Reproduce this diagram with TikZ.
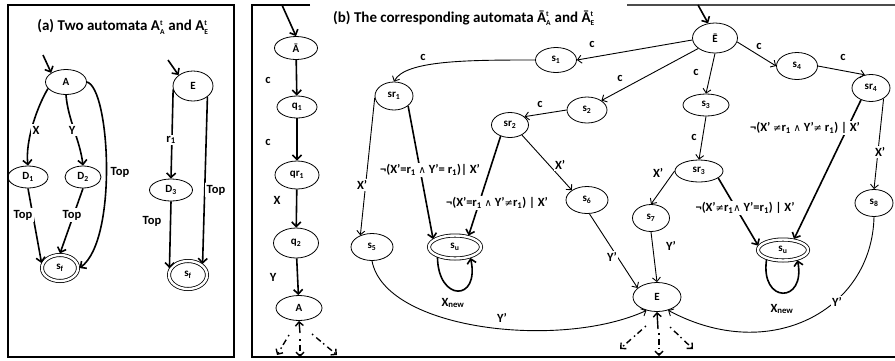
\documentclass[tikz,border=0pt]{standalone}
\usepackage{fontspec}
\setmainfont{Carlito}
\newfontfamily\symf{DejaVu Sans}
\usetikzlibrary{shapes.geometric,arrows.meta}
\newcommand\ts[2]{\ensuremath{^{\mbox{\fontsize{7.5}{7.5}\selectfont #1}}_{\mbox{\fontsize{7.5}{7.5}\selectfont #2}}}}
\newcommand\sbs[1]{\textsubscript{#1}}
\newcommand\AND{{\symf\mdseries\fontsize{10}{10}\selectfont ∧}}
\newcommand\NEQ{{\symf\mdseries\fontsize{10}{10}\selectfont ≠}}
\begin{document}
\begin{tikzpicture}[x=1pt,y=-1pt,
 st/.style 2 args={ellipse, draw, line width=0.8pt, minimum width=#1pt, minimum height=#2pt, inner sep=0pt, font=\fontsize{11}{12}\selectfont\bfseries},
 acc/.style 2 args={st={#1}{#2}, double, double distance=2.4pt, outer sep=1.6pt},
 lab/.style={font=\fontsize{12.5}{14}\selectfont\bfseries, inner sep=1.5pt},
 wlab/.style={lab, fill=white},
 tk/.style={line width=1.6pt, -{Straight Barb[length=4.5pt,width=9pt]}},
 tn/.style={line width=0.9pt, -{Straight Barb[length=4pt,width=8pt]}},
 da/.style={line width=1.4pt, dash pattern=on 1.5pt off 4pt on 6pt off 3pt, -{Straight Barb[length=4pt,width=8pt]}},
 fr/.style={line width=1.1pt}]
\useasboundingbox (0,0) rectangle (895,360);

% ---------- panel (a)
\draw[fr] (8,5) rectangle (234,357);
\node[lab, font=\fontsize{15}{17}\selectfont\bfseries] (ta) at (123,27) {(a) Two automata A\ts{t}{A} and A\ts{t}{E}};

\node[st={41}{25}] (Aa) at (66,82) {A};
\node[st={40}{30}] (Ea) at (193,86) {E};
\node[st={40}{22}] (D1) at (28,177) {D\sbs{1}};
\node[st={36}{22}] (D2) at (83,177) {D\sbs{2}};
\node[st={43}{22}] (D3) at (171,190) {D\sbs{3}};
\node[acc={36}{26}] (sfa) at (60,268) {s\sbs{f}};
\node[acc={38}{28}] (sfb) at (188,275) {s\sbs{f}};

\coordinate (iAa) at (43,55);
\draw[tk] (iAa) -- (Aa.north west);
\draw[tk] (Aa.200) .. controls (38,105) and (25,140) .. (D1.north);
\draw[tk] (Aa.south) .. controls (68,120) and (80,140) .. (D2.north);
\draw[tk] (Aa.east) .. controls (110,88) and (118,240) .. (sfa.east);
\draw[tk] (D1.south) -- (sfa.165);
\draw[tk] (D2.south) -- (sfa.north);
\coordinate (iEa) at (168,60);
\draw[tk] (iEa) -- (Ea.north west);
\draw[tk] (Ea.190) -- (D3.north);
\draw[tk] (Ea.south east) -- (sfb.north east);
\draw[tk] (D3.south) -- (sfb.160);

\node[wlab] (lX) at (36,130) {X};
\node[wlab] (lY) at (72,130) {Y};
\node[wlab] (lT1) at (120,172) {Top};
\node[wlab] (lT2) at (23,215) {Top};
\node[wlab] (lT3) at (72,215) {Top};
\node[wlab] (lr1) at (171,140) {r\sbs{1}};
\node[wlab] (lT4) at (216,190) {Top};
\node[wlab] (lT5) at (152,221) {Top};

% ---------- panel (b)
\draw[fr] (310,5) -- (252,5) -- (252,357) -- (895,357);
\draw[line width=1.6pt, black!70] (627,5) -- (895,5);
\node[lab, font=\fontsize{15}{17}\selectfont\bfseries] (tb) at (464,18) {(b) The corresponding automata \=A\ts{t}{A} and \=A\ts{t}{E}};

\node[st={43}{23}] (Ab) at (296,48) {\=A};
\node[st={40}{22}] (q1) at (297,107) {q\sbs{1}};
\node[st={44}{28}] (qr1) at (297,175) {qr\sbs{1}};
\node[st={45}{30}] (q2) at (296,243) {q\sbs{2}};
\node[st={46}{25}] (Ab2) at (299,308) {A};
\node[st={45}{30}] (Eb) at (715,38) {\=E};
\node[st={41}{25}] (s1) at (556,60) {s\sbs{1}};
\node[st={38}{28}] (sr1) at (394,96) {sr\sbs{1}};
\node[st={40}{26}] (s2) at (587,110) {s\sbs{2}};
\node[st={37}{25}] (sr2) at (510,125) {sr\sbs{2}};
\node[st={46}{22}] (s3) at (706,105) {s\sbs{3}};
\node[st={48}{22}] (sr3) at (699,171) {sr\sbs{3}};
\node[st={41}{27}] (s4) at (797,66) {s\sbs{4}};
\node[st={38}{27}] (sr4) at (871,88) {sr\sbs{4}};
\node[st={42}{27}] (s5) at (372,247) {s\sbs{5}};
\node[st={42}{27}] (s6) at (587,200) {s\sbs{6}};
\node[st={37}{27}] (s7) at (651,218) {s\sbs{7}};
\node[st={38}{27}] (s8) at (874,203) {s\sbs{8}};
\node[acc={52}{23}] (su1) at (455,247) {s\sbs{u}};
\node[acc={50}{21}] (su2) at (783,250) {s\sbs{u}};
\node[st={48}{29}] (Ebb) at (657,297) {E};

% left column
\coordinate (iAb) at (282,5);
\draw[tk] (iAb) -- (Ab.north);
\draw[tk] (Ab) -- (q1);
\draw[tk] (q1) -- (qr1);
\draw[tk] (qr1) -- (q2);
\draw[tk] (q2) -- (Ab2);
\coordinate (au) at (300,333);
\draw[line width=1.4pt, -{Straight Barb[length=4pt,width=8pt]}] (au) -- (Ab2.south);
\coordinate (a1s) at (289,335); \coordinate (a1e) at (277,355);
\coordinate (a2s) at (300,339); \coordinate (a2e) at (300,357);
\coordinate (a3s) at (312,334); \coordinate (a3e) at (337,355);
\draw[da] (a1s) -- (a1e);
\draw[da] (a2s) -- (a2e);
\draw[da] (a3s) -- (a3e);

% right part
\coordinate (iEb) at (698,5);
\draw[tk] (iEb) -- (Eb.115);
\draw[tn] (Eb.185) -- (s1.east);
\draw[tn] (s1.west) .. controls (470,60) and (405,60) .. (sr1.north);
\draw[tn] (Eb.212) -- (s2.north east);
\draw[tn] (s2.west) -- (sr2.30);
\draw[tn] (Eb.south) -- (s3.north);
\draw[tn] (s3.south) -- (sr3.north);
\draw[tn] (Eb.-10) -- (s4.west);
\draw[tn] (s4.east) -- (sr4.115);
\draw[tn] (sr1.185) -- (s5.135);
\draw[tk] (sr1.-35) -- (su1.160);
\draw[tk] (sr2.-130) -- (su1.40);
\draw[tn] (sr2.-40) -- (s6.north west);
\draw[tn] (s6.-80) -- (Ebb.155);
\draw[tn] (sr3.west) -- (s7.north);
\draw[tn] (s7.south) -- (Ebb.north);
\draw[tk] (sr3.-20) -- (su2.170);
\draw[tk] (sr4.-130) -- (su2.45);
\draw[tn] (sr4.-40) -- (s8.north);
\draw[tn] (s8.south) .. controls (872,310) and (770,365) .. (Ebb.-50);
\draw[tn] (s5.south) .. controls (385,330) and (560,350) .. (Ebb.-128);
\draw[tk] (su1.-150) .. controls (438,302) and (480,302) .. (su1.-35);
\draw[tk] (su2.-150) .. controls (760,304) and (806,304) .. (su2.-35);

\coordinate (eu) at (658,329);
\draw[line width=1.4pt, -{Straight Barb[length=4pt,width=8pt]}] (eu) -- (Ebb.south);
\coordinate (e1s) at (646,326); \coordinate (e1e) at (620,349);
\coordinate (e2s) at (659,333); \coordinate (e2e) at (659,356);
\coordinate (e3s) at (670,327); \coordinate (e3e) at (693,349);
\draw[da] (e1s) -- (e1e);
\draw[da] (e2s) -- (e2e);
\draw[da] (e3s) -- (e3e);

% labels (b)
\node[lab] (lc1) at (268,80) {c};
\node[lab] (lc2) at (268,142) {c};
\node[lab] (lX2) at (277,200) {X};
\node[lab] (lY2) at (273,277) {Y};
\node[lab] (c3) at (592,44) {c};
\node[lab] (c4) at (423,57) {c};
\node[lab] (c5) at (620,78) {c};
\node[lab] (c6) at (540,104) {c};
\node[lab] (c7) at (696,72) {c};
\node[lab] (c8) at (694,137) {c};
\node[wlab] (c9) at (759,46) {c};
\node[lab] (c10) at (843,57) {c};
\node[wlab] (xp1) at (362,185) {X’};
\node[wlab] (L1) at (430,170) {¬(X’=r\sbs{1} \AND{} Y’= r\sbs{1})| X’};
\node[wlab] (L2) at (497,203) {¬(X’=r\sbs{1} \AND{} Y’\NEQ{}r\sbs{1}) | X’};
\node[wlab] (xp2) at (560,165) {X’};
\node[wlab] (yp1) at (612,257) {Y’};
\node[lab] (xp3) at (658,173) {X’};
\node[lab] (yp2) at (671,246) {Y’};
\node[wlab] (L3) at (745,208) {¬(X’\NEQ{}r\sbs{1}\AND{} Y’=r\sbs{1}) | X’};
\node[wlab] (L4) at (805,128) {¬(X’ \NEQ{}r\sbs{1} \AND{} Y’\NEQ{} r\sbs{1}) | X’};
\node[wlab] (xp4) at (880,152) {X’};
\node[wlab] (yp3) at (837,302) {Y’};
\node[lab] (yp4) at (502,318) {Y’};
\node[lab] (xn1) at (453,303) {X\sbs{new}};
\node[lab] (xn2) at (782,309) {X\sbs{new}};
\end{tikzpicture}
\end{document}
